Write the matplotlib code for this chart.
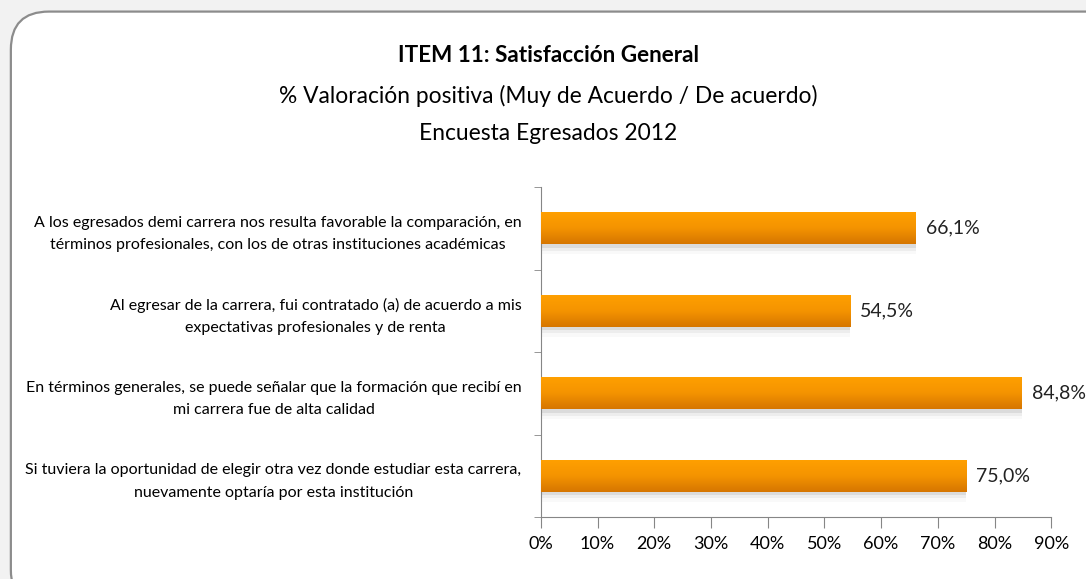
import numpy as np
import matplotlib.pyplot as plt
from matplotlib.patches import FancyBboxPatch
from matplotlib.colors import LinearSegmentedColormap

plt.rcParams['font.family'] = ['Lato', 'DejaVu Sans']

items = [
    'A los egresados demi carrera nos resulta favorable la comparación, en\n'
    'términos profesionales, con los de otras instituciones académicas',
    'Al egresar de la carrera, fui contratado (a) de acuerdo a mis\n'
    'expectativas profesionales y de renta',
    'En términos generales, se puede señalar que la formación que recibí en\n'
    'mi carrera fue de alta calidad',
    'Si tuviera la oportunidad de elegir otra vez donde estudiar esta carrera,\n'
    'nuevamente optaría por esta institución',
]
values = [66.1, 54.5, 84.8, 75.0]
xticks = [0, 10, 20, 30, 40, 50, 60, 70, 80, 90]

fig = plt.figure(figsize=(10.86, 5.79), dpi=100)
fig.patch.set_facecolor('#f2f2f2')

# rounded frame around the chart
frame = FancyBboxPatch((0.010, -0.05), 1.05, 1.03,
                       boxstyle='round,pad=0,rounding_size=0.035',
                       transform=fig.transFigure, fc='white', ec='#8c8c8c',
                       lw=1.6, mutation_aspect=1086 / 579, zorder=-5)
fig.patches.append(frame)

fig.text(0.505, 0.905, 'ITEM 11: Satisfacción General', ha='center',
         va='center', fontsize=16.2, fontweight='bold')
fig.text(0.505, 0.834, '% Valoración positiva (Muy de Acuerdo / De acuerdo)',
         ha='center', va='center', fontsize=16.4)
fig.text(0.505, 0.770, 'Encuesta Egresados 2012', ha='center', va='center',
         fontsize=16.4)

ax = fig.add_axes([0.498, 0.107, 0.47, 0.570])
ax.patch.set_alpha(0)
ypos = np.arange(len(items))[::-1]
h = 0.39

# soft shadow under each bar
for dy, a in [(0.04, 0.14), (0.08, 0.08), (0.12, 0.04)]:
    ax.barh(ypos - dy, values, height=h, color='#707070', alpha=a, lw=0)

bars = ax.barh(ypos, values, height=h, color='#F39200', lw=0)
grad = np.linspace(0, 1, 64).reshape(-1, 1)
cmap = LinearSegmentedColormap.from_list('o', ['#FFA000', '#F59400', '#D67600'])
for b in bars:
    x0, y0 = b.get_x(), b.get_y()
    im = ax.imshow(grad, cmap=cmap, aspect='auto', origin='upper',
                   extent=[x0, x0 + b.get_width(), y0, y0 + b.get_height()],
                   zorder=3)
    im.set_clip_path(b)

for y, v in zip(ypos, values):
    ax.text(v + 1.8, y, f'{v:.1f}%'.replace('.', ','), va='center',
            ha='left', fontsize=14, color='#222222')

ax.set_xlim(0, 90)
ax.set_ylim(-0.5, len(items) - 0.5)
ax.set_xticks(xticks)
ax.set_xticklabels([f'{t}%' for t in xticks], fontsize=13)
ax.set_yticks(ypos)
ax.set_yticklabels(items, fontsize=11.5, multialignment='center',
                   linespacing=1.75)
ax.set_yticks(np.arange(-0.5, len(items), 1), minor=True)
ax.tick_params(axis='y', which='major', length=0, pad=14)
ax.tick_params(axis='y', which='minor', length=5, color='#868686')
ax.tick_params(axis='x', length=8, color='#868686', pad=6)

for s in ['top', 'right']:
    ax.spines[s].set_visible(False)
for s in ['left', 'bottom']:
    ax.spines[s].set_color('#868686')

fig.savefig('out.png', dpi=100, facecolor=fig.get_facecolor())
